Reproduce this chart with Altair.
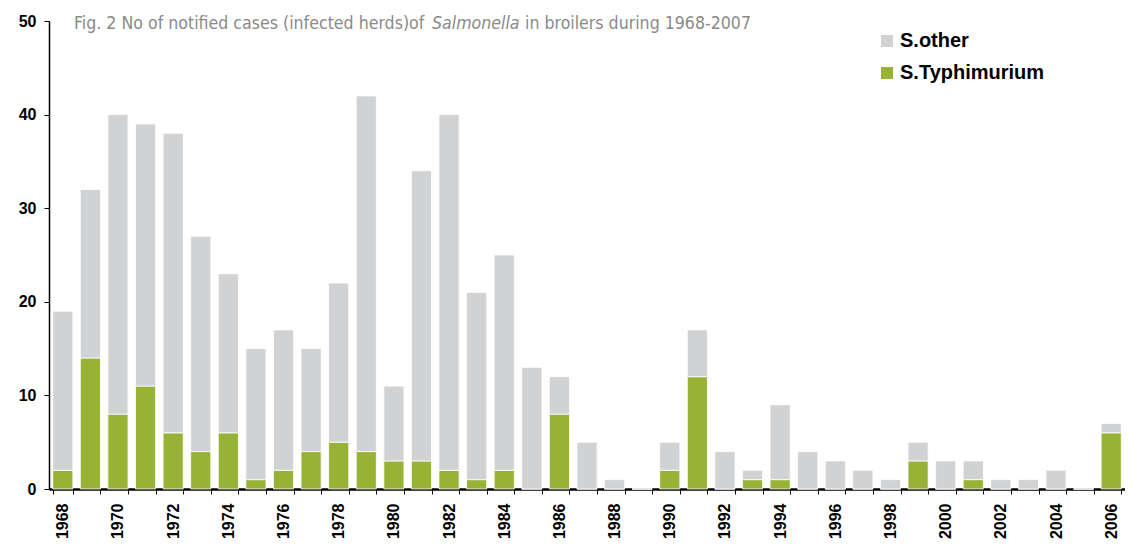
import altair as alt
import pandas as pd

years = list(range(1968, 2007))
typhimurium = [2, 14, 8, 11, 6, 4, 6, 1, 2, 4, 5, 4, 3, 3, 2, 1, 2, 0, 8, 0,
               0, 0, 2, 12, 0, 1, 1, 0, 0, 0, 0, 3, 0, 1, 0, 0, 0, 0, 6]
other = [17, 18, 32, 28, 32, 23, 17, 14, 15, 11, 17, 38, 8, 31, 38, 20, 23, 13, 4, 5,
         1, 0, 3, 5, 4, 1, 8, 4, 3, 2, 1, 2, 3, 2, 1, 1, 2, 0, 1]
series = ["S.other", "S.Typhimurium"]
colors = ["#d1d2d4", "#96b335"]

rows = []
for y, t, o in zip(years, typhimurium, other):
    rows.append({"year": y, "series": "S.Typhimurium", "value": t, "ord": 0})
    rows.append({"year": y, "series": "S.other", "value": o, "ord": 1})
df = pd.DataFrame(rows)

AX_FONT = "Liberation Sans, Arial, sans-serif"
T_FONT = "Liberation Sans Narrow, DejaVu Sans Condensed, sans-serif"

bars = alt.Chart(df).mark_bar(stroke="white", strokeWidth=0.8).encode(
    x=alt.X("year:O",
            scale=alt.Scale(paddingInner=0.27, paddingOuter=0.135),
            axis=alt.Axis(title=None, labelAngle=-90, labelFont=AX_FONT,
                          labelFontWeight="bold", labelFontSize=16, labelColor="black",
                          labelExpr="datum.value % 2 == 0 ? datum.label : ''",
                          tickBand="extent", tickColor="black", tickSize=5,
                          domainColor="black", domainWidth=2.5, labelPadding=9,
                          labelBaseline="middle", labelAlign="right")),
    y=alt.Y("value:Q", stack="zero",
            scale=alt.Scale(domain=[0, 50]),
            axis=alt.Axis(title=None, values=[0, 10, 20, 30, 40, 50], grid=False,
                          labelFont=AX_FONT, labelFontWeight="bold", labelFontSize=16,
                          labelColor="black", tickColor="black", tickSize=5,
                          domainColor="black", domainWidth=1.5, labelPadding=8,
                          minExtent=36, maxExtent=36)),
    color=alt.Color("series:N",
                    scale=alt.Scale(domain=series, range=colors),
                    legend=alt.Legend(title=None, orient="none", legendX=828, legendY=10,
                                      symbolType="square", symbolSize=144,
                                      symbolStrokeWidth=0, labelFont=AX_FONT,
                                      labelFontWeight="bold", labelFontSize=20,
                                      labelColor="black", rowPadding=12,
                                      labelOffset=3)),
    order=alt.Order("ord:Q"),
)

title_parts = [
    ("Fig. 2 No of notified cases (infected herds)of", 25, "normal"),
    ("Salmonella", 383, "italic"),
    ("in broilers during 1968-2007", 476, "normal"),
]
title_layers = []
for txt, xpos, style in title_parts:
    title_layers.append(
        alt.Chart(pd.DataFrame({"t": [txt]})).mark_text(
            align="left", baseline="middle", font=T_FONT, fontSize=17.6,
            fontStyle=style, color="#8a8a8a"
        ).encode(text="t:N", x=alt.value(xpos), y=alt.value(3))
    )

chart = alt.layer(bars, *title_layers).properties(
    width=1076, height=468,
    padding={"left": 5, "top": 5, "right": 0, "bottom": 0},
).configure_view(stroke=None)

chart.save("out.html", embed_options={"renderer": "svg", "actions": False})
